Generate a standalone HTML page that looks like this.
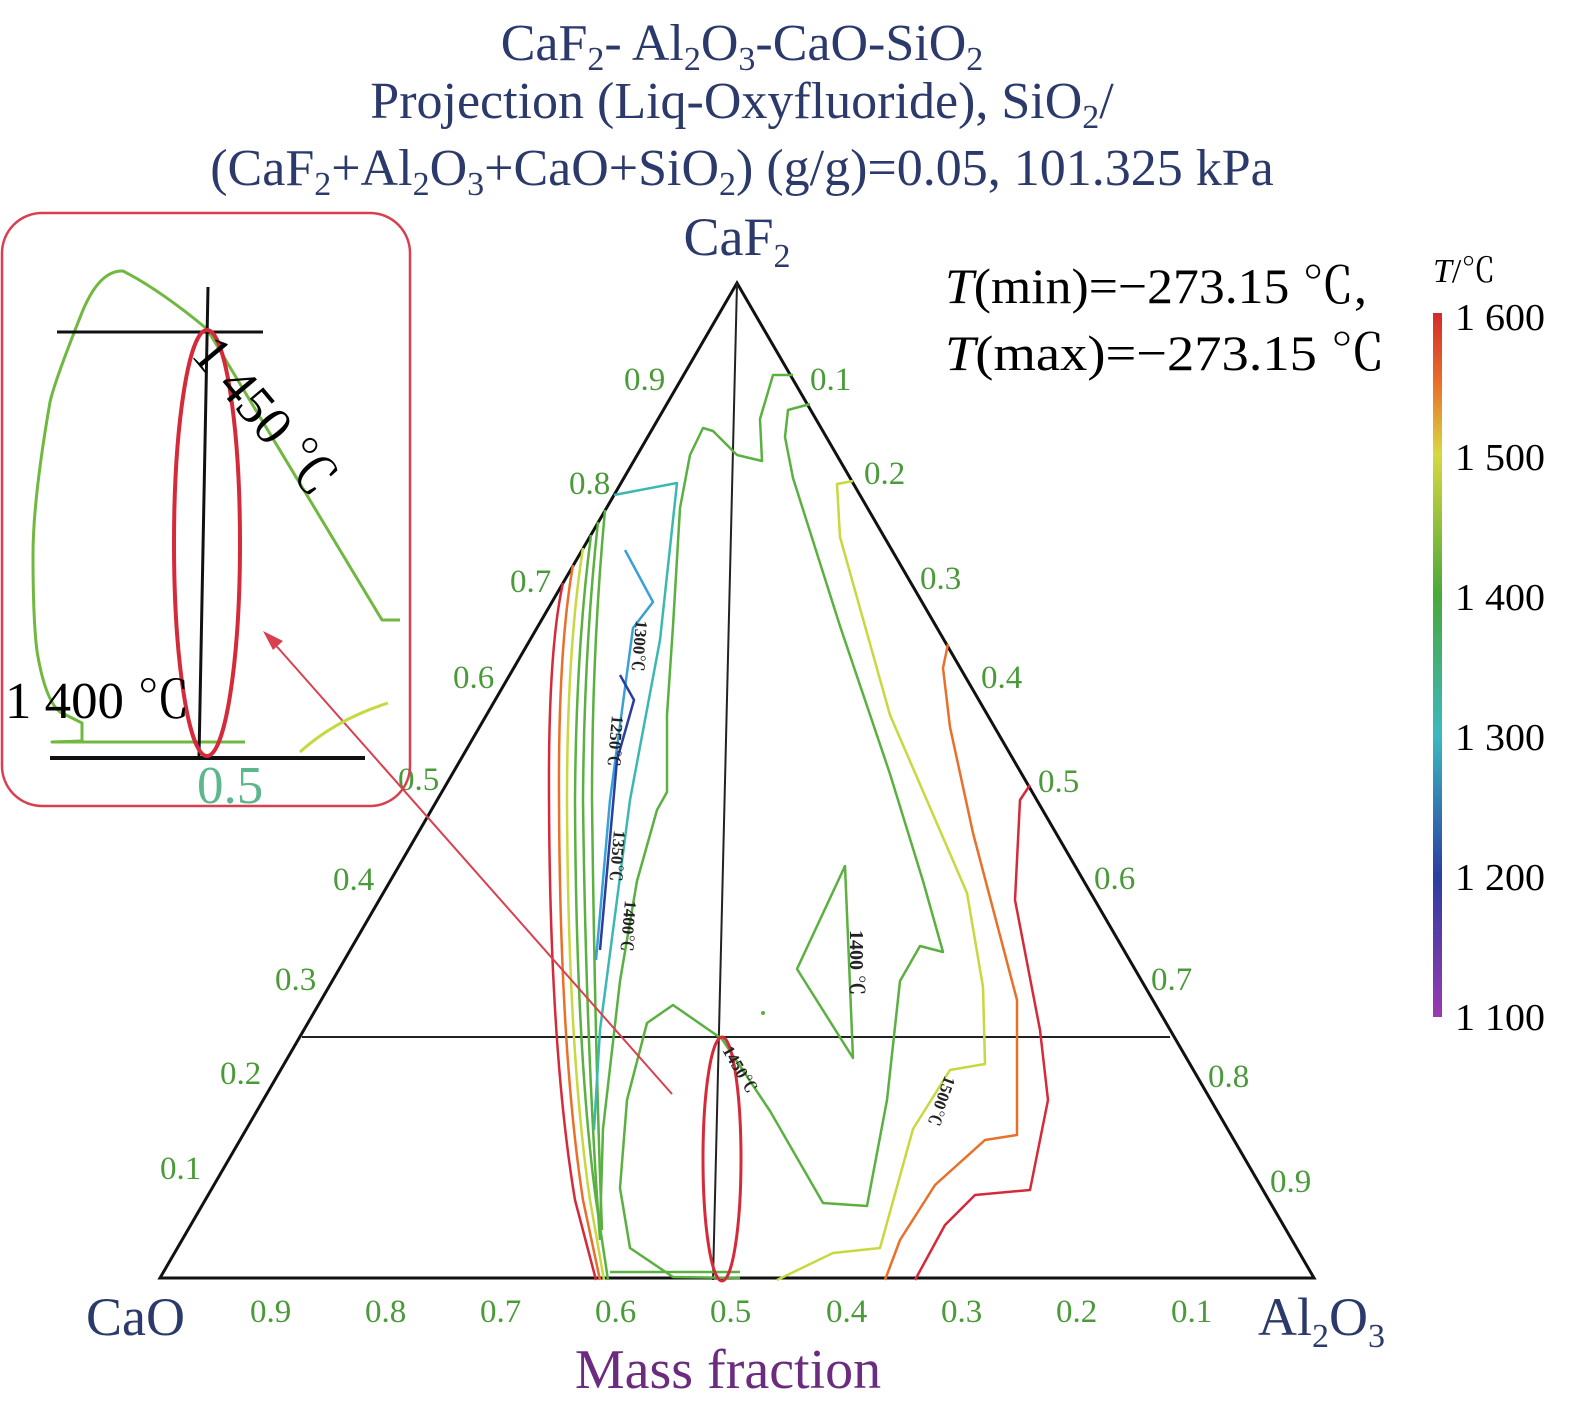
<!DOCTYPE html>
<html><head><meta charset="utf-8"><style>
html,body{margin:0;padding:0;background:#fff}
svg{display:block}
text{font-family:"Liberation Serif","Noto Serif CJK SC",serif}
</style></head><body>
<svg width="1575" height="1415" viewBox="0 0 1575 1415" xmlns="http://www.w3.org/2000/svg">
<defs>
<linearGradient id="cb" x1="0" y1="0" x2="0" y2="1">
<stop offset="0" stop-color="#d42a2a"/>
<stop offset="0.1" stop-color="#e8702a"/>
<stop offset="0.2" stop-color="#d8d840"/>
<stop offset="0.4" stop-color="#4aa83a"/>
<stop offset="0.6" stop-color="#3cb8c0"/>
<stop offset="0.8" stop-color="#2a3ea0"/>
<stop offset="1" stop-color="#9a3ab0"/>
</linearGradient>
</defs>
<!-- Title -->
<g fill="#2b3a6b" font-size="52" text-anchor="middle">
<text x="742" y="60">CaF<tspan font-size="34" dy="10">2</tspan><tspan dy="-10">- Al</tspan><tspan font-size="34" dy="10">2</tspan><tspan dy="-10">O</tspan><tspan font-size="34" dy="10">3</tspan><tspan dy="-10">-CaO-SiO</tspan><tspan font-size="34" dy="10">2</tspan></text>
<text x="742" y="118">Projection (Liq-Oxyfluoride), SiO<tspan font-size="34" dy="10">2</tspan><tspan dy="-10">/</tspan></text>
<text x="742" y="185">(CaF<tspan font-size="34" dy="10">2</tspan><tspan dy="-10">+Al</tspan><tspan font-size="34" dy="10">2</tspan><tspan dy="-10">O</tspan><tspan font-size="34" dy="10">3</tspan><tspan dy="-10">+CaO+SiO</tspan><tspan font-size="34" dy="10">2</tspan><tspan dy="-10">) (g/g)=0.05, 101.325 kPa</tspan></text>
<text x="737" y="255" font-size="54">CaF<tspan font-size="34" dy="12">2</tspan></text>
</g>
<text x="86" y="1335" font-size="54" fill="#2b3a6b">CaO</text>
<text x="1258" y="1335" font-size="54" fill="#2b3a6b">Al<tspan font-size="34" dy="12">2</tspan><tspan dy="-12">O</tspan><tspan font-size="34" dy="12">3</tspan></text>
<text x="728" y="1388" font-size="56" fill="#6b2c80" text-anchor="middle">Mass fraction</text>
<text x="945" y="303" font-size="50" textLength="422" lengthAdjust="spacingAndGlyphs"><tspan font-style="italic">T</tspan>(min)=−273.15 ℃,</text>
<text x="945" y="370" font-size="50" textLength="440" lengthAdjust="spacingAndGlyphs"><tspan font-style="italic">T</tspan>(max)=−273.15 ℃</text>
<!-- colorbar -->
<rect x="1433" y="313" width="9" height="704" fill="url(#cb)"/>
<text x="1433" y="282" font-size="34"><tspan font-style="italic">T</tspan>/℃</text>
<g font-size="38">
<text x="1455" y="330" textLength="90" lengthAdjust="spacingAndGlyphs">1 600</text><text x="1455" y="470" textLength="90" lengthAdjust="spacingAndGlyphs">1 500</text><text x="1455" y="610" textLength="90" lengthAdjust="spacingAndGlyphs">1 400</text>
<text x="1455" y="750" textLength="90" lengthAdjust="spacingAndGlyphs">1 300</text><text x="1455" y="890" textLength="90" lengthAdjust="spacingAndGlyphs">1 200</text><text x="1455" y="1030" textLength="90" lengthAdjust="spacingAndGlyphs">1 100</text>
</g>
<!-- triangle -->
<polygon points="160,1278 1314,1278 737,283" fill="none" stroke="#111" stroke-width="3"/>
<line x1="302" y1="1037" x2="1170" y2="1037" stroke="#222" stroke-width="2"/>
<line x1="737" y1="283" x2="713" y2="1280" stroke="#222" stroke-width="2"/>
<!-- tick labels -->
<g font-size="33" fill="#4a9a3a">
<text x="624" y="390">0.9</text><text x="569" y="494">0.8</text><text x="510" y="592">0.7</text><text x="453" y="688">0.6</text><text x="398" y="790">0.5</text><text x="333" y="890">0.4</text><text x="275" y="990">0.3</text><text x="220" y="1084">0.2</text><text x="160" y="1179">0.1</text>
<text x="810" y="390">0.1</text><text x="864" y="484">0.2</text><text x="920" y="589">0.3</text><text x="981" y="688">0.4</text><text x="1038" y="792">0.5</text><text x="1094" y="889">0.6</text><text x="1151" y="990">0.7</text><text x="1208" y="1087">0.8</text><text x="1270" y="1192">0.9</text>
<text x="250" y="1322">0.9</text><text x="365" y="1322">0.8</text><text x="480" y="1322">0.7</text><text x="595" y="1322">0.6</text><text x="710" y="1322">0.5</text><text x="826" y="1322">0.4</text><text x="941" y="1322">0.3</text><text x="1056" y="1322">0.2</text><text x="1171" y="1322">0.1</text>
</g>
<!-- contours -->
<g fill="none" stroke-width="2.5" stroke-linejoin="round">
<path stroke="#5ab040" d="M810,404 L788,410 L785,437 L793,478 L840,626 L890,774 L923,881 L943,952 L920,946 L900,981 L887,1100 L867,1206 L823,1203 L770,1111 L722,1039 L673,1005 L647,1023 L627,1100 L620,1188 L630,1248 L673,1277 L740,1278"/>
<path stroke="#5ab040" d="M793,375 L773,375 L760,419 L762,461 L737,455 L713,431 L703,428 L690,455 L680,508 L673,626 L667,715 L667,792 L657,810 L637,881 L620,981 L603,1129 L600,1230"/>
<path stroke="#5ab040" d="M845,866 L853,1058 L797,969 Z"/>
<path stroke="#c8d840" d="M853,481 L837,484 L840,537 L890,715 L967,893 L983,987 L985,1064 L950,1070 L913,1129 L880,1248 L833,1253 L777,1280"/>
<path stroke="#e8702a" d="M948,644 L943,668 L950,727 L973,833 L1017,1000 L1017,1135 L985,1140 L935,1185 L900,1240 L885,1280"/>
<path stroke="#d42a3a" d="M1030,785 L1020,800 L1015,900 L1040,1030 L1048,1100 L1030,1190 L975,1195 L945,1225 L915,1280"/>
<path stroke="#d42a3a" d="M563,583 Q548,650 549,800 Q550,1050 575,1200 L596,1280"/>
<path stroke="#e8702a" d="M573,565 Q558,650 559,800 Q560,1050 583,1200 L600,1280"/>
<path stroke="#c8d840" d="M583,548 Q567,650 567,800 Q568,1050 590,1200 L604,1280"/>
<path stroke="#5ab040" d="M591,535 Q576,650 575,800 Q576,1050 596,1200 L608,1280"/>
<path stroke="#5ab040" d="M598,522 Q584,650 583,800 Q586,1050 600,1240"/>
<path stroke="#5ab040" d="M605,510 Q592,650 592,800 Q595,1050 602,1230"/>
<path stroke="#3cb8b0" d="M614,495 L677,483 L660,640 L630,800 L600,1030 L594,1130"/>
<path stroke="#3aa0d8" d="M625,550 L653,602 L633,628 L610,800 L596,960"/>
<path stroke="#2a3ea0" d="M620,675 L634,700 L617,760 L600,950"/>
<path stroke="#5ab040" d="M610,1272 L740,1272"/>
<ellipse cx="722" cy="1159" rx="19" ry="122" stroke="#d42a3a" stroke-width="3"/>
<circle cx="763" cy="1013" r="2" fill="#5ab040"/>
</g>
<g font-size="17" font-weight="bold" fill="#222">
<text transform="translate(636,620) rotate(95)">1300℃</text>
<text transform="translate(612,715) rotate(95)">1250℃</text>
<text transform="translate(614,830) rotate(95)">1350℃</text>
<text transform="translate(625,900) rotate(95)">1400℃</text>
<text transform="translate(850,930) rotate(90)" font-size="20">1400 ℃</text>
<text transform="translate(722,1050) rotate(60)">1450℃</text>
<text transform="translate(945,1075) rotate(110)">1500℃</text>
</g>
<!-- arrow -->
<line x1="672" y1="1094" x2="272" y2="641" stroke="#d84050" stroke-width="2"/>
<polygon points="263,631 283,641 273,650" fill="#d84050"/>
<!-- inset -->
<rect x="2" y="213" width="408" height="593" rx="40" fill="none" stroke="#d84050" stroke-width="2.5"/>
<g fill="none" stroke-linejoin="round">
<path stroke="#70b840" stroke-width="3" d="M400,620 L382,620 L207,329 Q160,290 123,271 Q100,270 83,310 Q55,380 50,402 Q33,500 33,555 Q33,620 37,651 Q45,700 60,712 L82,723 L82,741 L52,742 L245,742"/>
<path stroke="#c8d840" stroke-width="3" d="M300,752 Q335,720 388,703"/>
<line x1="57" y1="332" x2="263" y2="332" stroke="#111" stroke-width="3"/>
<line x1="208" y1="287" x2="199" y2="757" stroke="#111" stroke-width="3"/>
<line x1="50" y1="758" x2="365" y2="758" stroke="#111" stroke-width="4"/>
<ellipse cx="207" cy="543" rx="33" ry="213" stroke="#d42a3a" stroke-width="4"/>
</g>
<text transform="translate(190,355) rotate(50)" font-size="54">1 450 ℃</text>
<text x="5" y="718" font-size="52" textLength="185" lengthAdjust="spacingAndGlyphs">1 400 ℃</text>
<text x="197" y="803" font-size="53" fill="#5cb88c">0.5</text>
</svg>
</body></html>
